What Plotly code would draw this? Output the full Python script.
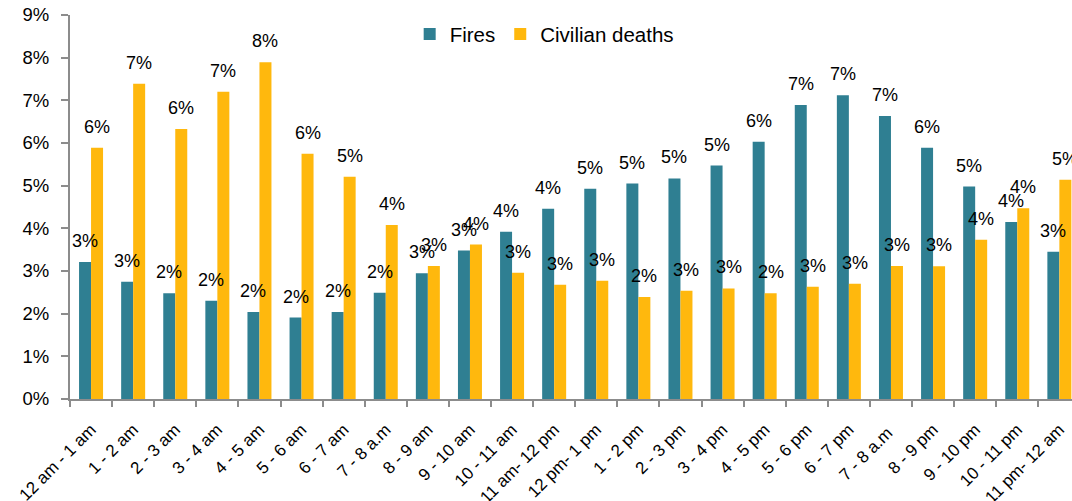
import plotly.graph_objects as go

categories = ["12 am - 1 am", "1 - 2 am", "2 - 3 am", "3 - 4 am", "4 - 5 am", "5 - 6 am",
              "6 - 7 am", "7 - 8 a.m", "8 - 9 am", "9 - 10 am", "10 - 11 am", "11 am- 12 pm",
              "12 pm- 1 pm", "1 - 2 pm", "2 - 3 pm", "3 - 4 pm", "4 - 5 pm", "5 - 6 pm",
              "6 - 7 pm", "7 - 8 a.m ", "8 - 9 pm", "9 - 10 pm", "10 - 11 pm", "11 pm- 12 am"]
fires = [3.21, 2.75, 2.48, 2.30, 2.04, 1.91, 2.04, 2.49, 2.95, 3.48, 3.92, 4.46,
         4.93, 5.05, 5.17, 5.47, 6.03, 6.89, 7.12, 6.63, 5.89, 4.98, 4.15, 3.45]
deaths = [5.89, 7.39, 6.33, 7.20, 7.89, 5.75, 5.21, 4.08, 3.12, 3.62, 2.96, 2.68,
          2.77, 2.39, 2.54, 2.59, 2.48, 2.63, 2.70, 3.12, 3.11, 3.73, 4.47, 5.14]
y_ticks = list(range(0, 10))

FONT = "Arial, Liberation Sans, sans-serif"
C_FIRES = "#2F7F92"
C_DEATHS = "#FFB80D"

fig = go.Figure()
fig.add_trace(go.Bar(x=categories, y=fires, name="Fires", marker_color=C_FIRES,
                     marker_line_width=0))
fig.add_trace(go.Bar(x=categories, y=deaths, name="Civilian deaths", marker_color=C_DEATHS,
                     marker_line_width=0))

for series, shift in ((fires, -6), (deaths, 6)):
    for c, v in zip(categories, series):
        fig.add_annotation(x=c, y=v, text=f"{v:.0f}%", showarrow=False,
                           xshift=shift, yshift=21, yanchor="middle",
                           font=dict(family=FONT, size=18, color="#000000"))

fig.update_layout(
    width=1072, height=501,
    margin=dict(l=70, r=0, t=15, b=101.5, autoexpand=False),
    paper_bgcolor="white", plot_bgcolor="white",
    barmode="group", bargap=0.43, bargroupgap=0,
    font=dict(family=FONT, size=18, color="#000000"),
    showlegend=True,
    legend=dict(orientation="h", x=0.339, xanchor="left", y=0.95, yanchor="middle",
                font=dict(family=FONT, size=20.5, color="#000000"),
                bgcolor="rgba(0,0,0,0)"),
)
fig.update_xaxes(type="category", range=[-0.5, 23.3], tickangle=-45, automargin=False,
                 showline=True, linecolor="#8C8C8C", linewidth=2,
                 ticks="outside", tickson="boundaries", ticklen=6, tickcolor="#8C8C8C",
                 tickwidth=1.5, showgrid=False, ticklabelstandoff=12,
                 tickfont=dict(family=FONT, size=17))
fig.update_yaxes(range=[0, 9], tickvals=y_ticks, ticktext=[f"{t}%" for t in y_ticks],
                 automargin=False,
                 showline=True, linecolor="#8C8C8C", linewidth=2,
                 ticks="outside", ticklen=7, tickcolor="#8C8C8C", tickwidth=1.5,
                 showgrid=False, zeroline=False, ticklabelstandoff=8,
                 tickfont=dict(family=FONT, size=18.5))

fig.write_html("out.html", config={"displayModeBar": False},
               post_script="document.body.style.margin='0px';document.body.style.overflow='hidden';")
